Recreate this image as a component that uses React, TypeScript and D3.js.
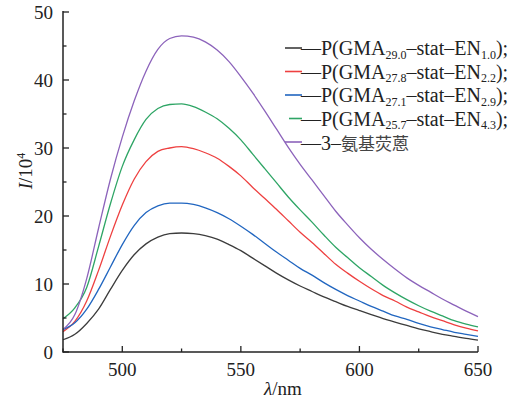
import React from "react";
import * as d3 from "d3";

const wavelengths: number[] = d3.range(475, 651, 5);

const seriesBlack: number[] = [1.8, 2.6, 4.2, 6.3, 9.2, 12.0, 14.3, 15.9, 16.9, 17.4, 17.5, 17.4, 17.1, 16.6, 15.8, 14.9, 13.8, 12.7, 11.6, 10.6, 9.7, 8.9, 8.1, 7.4, 6.7, 6.1, 5.5, 4.9, 4.4, 3.9, 3.4, 3.0, 2.6, 2.3, 2.0, 1.75];
const seriesRed: number[] = [3.0, 4.5, 7.5, 12.0, 17.0, 21.6, 25.4, 28.0, 29.5, 30.0, 30.2, 29.9, 29.3, 28.5, 27.3, 25.9, 24.2, 22.6, 21.0, 19.3, 17.6, 16.1, 14.5, 12.9, 11.6, 10.4, 9.3, 8.3, 7.5, 6.6, 5.9, 5.2, 4.6, 4.0, 3.5, 3.1];
const seriesBlue: number[] = [3.3, 4.3, 6.3, 9.2, 12.5, 15.8, 18.6, 20.5, 21.5, 21.9, 21.9, 21.7, 21.2, 20.5, 19.6, 18.5, 17.3, 16.0, 14.7, 13.5, 12.3, 11.3, 10.2, 9.2, 8.3, 7.5, 6.7, 6.0, 5.3, 4.8, 4.2, 3.7, 3.3, 2.9, 2.6, 2.3];
const seriesGreen: number[] = [4.9, 6.5, 9.5, 15.5, 21.8, 27.3, 31.2, 34.2, 35.8, 36.4, 36.5, 36.1, 35.3, 34.3, 32.9, 31.2, 29.1, 27.0, 24.9, 22.8, 20.9, 19.1, 17.2, 15.4, 13.9, 12.4, 11.1, 9.8, 8.7, 7.7, 6.8, 6.0, 5.3, 4.6, 4.1, 3.7];
const seriesPurple: number[] = [3.3, 5.5, 10.8, 18.2, 25.4, 31.6, 36.9, 41.3, 44.5, 46.1, 46.5, 46.3, 45.6, 44.4, 42.7, 40.5, 38.1, 35.5, 32.8, 30.1, 27.6, 25.3, 23.0, 20.7, 18.7, 16.8, 15.1, 13.6, 12.2, 10.9, 9.8, 8.8, 7.8, 6.9, 6.0, 5.2];

const xTicks: number[] = [500, 550, 600, 650];
const xMinorTicks: number[] = [475, 525, 575, 625];
const yTicks: number[] = [0, 10, 20, 30, 40, 50];
const yMinorTicks: number[] = [5, 15, 25, 35, 45];

const legendSubsA: string[] = ["29.0", "27.8", "27.1", "25.7"];
const legendSubsB: string[] = ["1.0", "2.2", "2.9", "4.3"];
const legendLast = "氨基荧蒽";

const colors = ["#3c3c3c", "#ee4040", "#2166c0", "#2ea565", "#8c63bb"];
const allSeries = [seriesBlack, seriesRed, seriesBlue, seriesGreen, seriesPurple];

export default function App() {
  const W = 513, H = 405;
  const left = 63, right = 478, top = 12, bottom = 352;
  const x = d3.scaleLinear().domain([475, 650]).range([left, right]);
  const y = d3.scaleLinear().domain([0, 50]).range([bottom, top]);
  const line = d3
    .line<[number, number]>()
    .x((d) => x(d[0]))
    .y((d) => y(d[1]))
    .curve(d3.curveMonotoneX);

  const font = "'Liberation Serif', 'Times New Roman', serif";
  const fs = 19;
  const lfs = 20;
  const legX = 285;
  const legY0 = 55;
  const legDy = 23.5;

  return (
    <svg width={W} height={H} style={{ position: "absolute", left: 0, top: 0 }} fontFamily={font}>
      <rect x={0} y={0} width={W} height={H} fill="#fff" />
      {allSeries.map((s, i) => (
        <path
          key={i}
          d={line(wavelengths.map((w, j) => [w, s[j]] as [number, number])) || ""}
          fill="none"
          stroke={colors[i]}
          strokeWidth={1.3}
        />
      ))}
      {/* axes */}
      <line x1={left} x2={right} y1={bottom} y2={bottom} stroke="#222" strokeWidth={1.5} />
      <line x1={left} x2={left} y1={bottom + 0.75} y2={top - 1} stroke="#222" strokeWidth={1.5} />
      {xTicks.map((t) => (
        <g key={"xt" + t}>
          <line x1={x(t)} x2={x(t)} y1={bottom} y2={bottom - 6} stroke="#222" strokeWidth={1.3} />
          <text x={x(t)} y={bottom + 24} fontSize={fs} textAnchor="middle" fill="#222">{t}</text>
        </g>
      ))}
      {xMinorTicks.map((t) => (
        <line key={"xm" + t} x1={x(t)} x2={x(t)} y1={bottom} y2={bottom - 3.5} stroke="#222" strokeWidth={1.3} />
      ))}
      {yTicks.map((t) => (
        <g key={"yt" + t}>
          <line x1={left} x2={left + 6} y1={y(t)} y2={y(t)} stroke="#222" strokeWidth={1.3} />
          <text x={left - 10} y={y(t) + 6.5} fontSize={fs} textAnchor="end" fill="#222">{t}</text>
        </g>
      ))}
      {yMinorTicks.map((t) => (
        <line key={"ym" + t} x1={left} x2={left + 3.5} y1={y(t)} y2={y(t)} stroke="#222" strokeWidth={1.3} />
      ))}
      {/* axis titles */}
      <text x={283} y={395} fontSize={fs} textAnchor="middle" fill="#222">
        <tspan fontStyle="italic">λ</tspan>/nm
      </text>
      <text transform={`translate(32,171) rotate(-90)`} fontSize={fs} textAnchor="middle" fill="#222">
        <tspan fontStyle="italic">I</tspan>/10<tspan fontSize={12} dy={-7}>4</tspan>
      </text>
      {/* legend */}
      {colors.map((c, i) => {
        const ly = legY0 + i * legDy;
        return (
          <g key={"lg" + i}>
            <line x1={legX + (i === 3 ? 4 : 0)} x2={legX + 17} y1={ly - 7} y2={ly - 7} stroke={c} strokeWidth={1.6} />
            {i < 4 ? (
              <text x={legX + 16} y={ly} fontSize={lfs} fill="#222">
                —P(GMA
                <tspan fontSize={12} dy={3.5}>{legendSubsA[i]}</tspan>
                <tspan dy={-3.5}>–stat–EN</tspan>
                <tspan fontSize={12} dy={3.5}>{legendSubsB[i]}</tspan>
                <tspan dy={-3.5}>);</tspan>
              </text>
            ) : (
              <text x={legX + 16} y={ly + 1} fontSize={lfs} fill="#222">
                —3–
                <tspan fontFamily="'Noto Sans CJK SC', sans-serif" fontSize={17} fill="#444">{legendLast}</tspan>
              </text>
            )}
          </g>
        );
      })}
    </svg>
  );
}
